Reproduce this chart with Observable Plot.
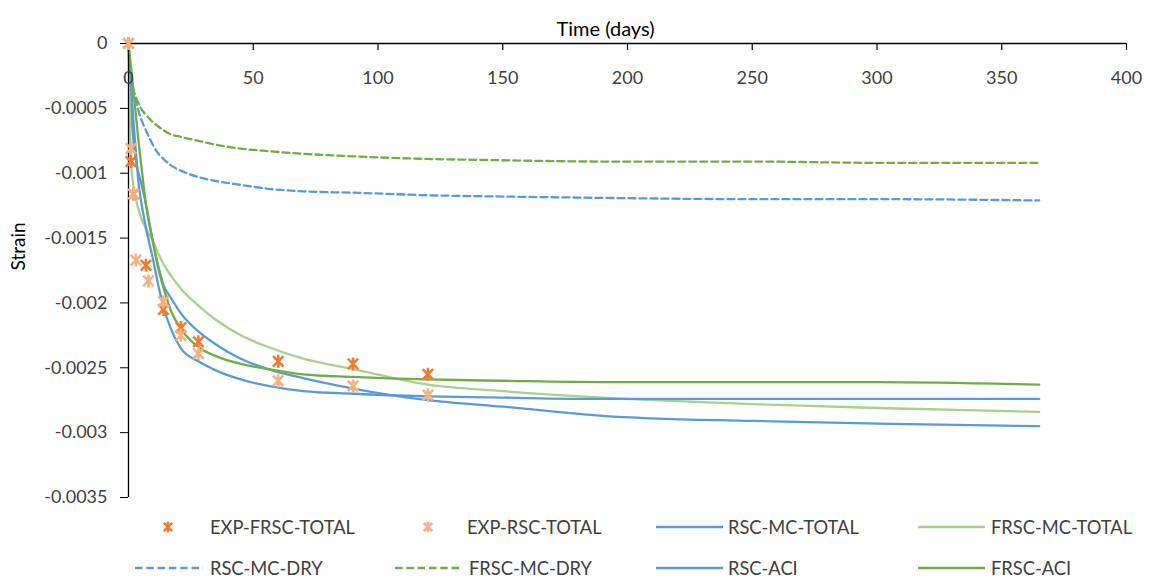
<!DOCTYPE html>
<html><head><meta charset="utf-8">
<script src="https://cdn.jsdelivr.net/npm/d3@7"></script>
<script src="https://cdn.jsdelivr.net/npm/@observablehq/plot@0.6"></script>
<style>
body{margin:0;background:#fff;}
#wrap{width:1151px;height:581px;position:relative;font-family:Lato,"Liberation Sans",Arial,sans-serif;color:#404040;background:#fff;}
#legend{position:relative;width:1151px;height:71px;}
.item{position:absolute;display:flex;align-items:center;font-size:18.3px;white-space:nowrap;transform:translateY(-50%);}
.item svg{display:block;}
</style></head><body><div id="wrap"><div id="chart"></div><div id="legend"></div></div>
<script>
// ---- data ----
const xTicks = [0, 50, 100, 150, 200, 250, 300, 350, 400];
const yTicks = [0, -0.0005, -0.001, -0.0015, -0.002, -0.0025, -0.003, -0.0035];

const expFrscDays  = [0, 1, 2, 7, 14, 21, 28, 60, 90, 120];
const expFrscTotal = [0, -0.00091, -0.00116, -0.00171, -0.00205, -0.00219, -0.0023, -0.00245, -0.00247, -0.00255];
const expRscDays   = [0, 1, 2, 3, 8, 14, 21, 28, 60, 90, 120];
const expRscTotal  = [0, -0.00081, -0.00116, -0.00167, -0.00183, -0.00199, -0.00225, -0.00239, -0.0026, -0.00264, -0.00271];

const curveDays   = [0, 1, 2, 3, 4, 5, 7, 10, 12, 14, 17, 21, 28, 35, 45, 56, 70, 90, 120, 150, 190, 250, 300, 365];
const rscMcTotal  = [0, -0.0005, -0.00075, -0.0009, -0.001, -0.00107, -0.00124, -0.00155, -0.00172, -0.00186, -0.00196, -0.00208, -0.00222, -0.00232, -0.00243, -0.00251, -0.00258, -0.00266, -0.00275, -0.0028, -0.00287, -0.00291, -0.00293, -0.00295];
const frscMcTotal = [0, -0.0009, -0.0011, -0.0012, -0.00128, -0.00134, -0.00143, -0.00153, -0.00162, -0.0017, -0.00179, -0.00189, -0.00202, -0.00213, -0.00225, -0.00234, -0.00243, -0.00251, -0.00263, -0.00268, -0.00273, -0.00278, -0.00281, -0.00284];
const rscMcDry    = [0, -0.00025, -0.00036, -0.00045, -0.00052, -0.00058, -0.00067, -0.00079, -0.00085, -0.00089, -0.00094, -0.00098, -0.00103, -0.00106, -0.00109, -0.00112, -0.00114, -0.00115, -0.00117, -0.00118, -0.00119, -0.0012, -0.0012, -0.00121];
const frscMcDry   = [0, -0.00025, -0.00036, -0.00042, -0.00046, -0.0005, -0.00055, -0.00061, -0.00064, -0.00067, -0.0007, -0.00072, -0.00075, -0.00078, -0.00081, -0.00083, -0.00085, -0.00087, -0.00089, -0.0009, -0.00091, -0.00091, -0.00092, -0.00092];
const rscAci      = [0, -0.0003, -0.0006, -0.00085, -0.00107, -0.00121, -0.00142, -0.00168, -0.00187, -0.00203, -0.0022, -0.00235, -0.00245, -0.00252, -0.00259, -0.00264, -0.00268, -0.0027, -0.00272, -0.00273, -0.00274, -0.00274, -0.00274, -0.00274];
const frscAci     = [0, -0.00018, -0.00037, -0.00056, -0.00075, -0.00092, -0.00124, -0.00155, -0.00174, -0.00188, -0.00206, -0.0022, -0.00234, -0.00241, -0.00247, -0.00251, -0.00255, -0.00257, -0.00259, -0.0026, -0.00261, -0.00261, -0.00261, -0.00263];

const seriesNames = ["EXP-FRSC-TOTAL", "EXP-RSC-TOTAL", "RSC-MC-TOTAL", "FRSC-MC-TOTAL", "RSC-MC-DRY", "FRSC-MC-DRY", "RSC-ACI", "FRSC-ACI"];

// ---- styles ----
const C = {darkOrange: "#ED7D31", lightOrange: "#F4B183", blue: "#5B9BD5", lightGreen: "#A9D18E", green: "#70AD47"};
const lineSeries = [
  {name: "RSC-MC-TOTAL", values: rscMcTotal, color: C.blue, dash: null},
  {name: "FRSC-MC-TOTAL", values: frscMcTotal, color: C.lightGreen, dash: null},
  {name: "RSC-MC-DRY", values: rscMcDry, color: C.blue, dash: "7,4"},
  {name: "FRSC-MC-DRY", values: frscMcDry, color: C.green, dash: "7,4"},
  {name: "RSC-ACI", values: rscAci, color: C.blue, dash: null},
  {name: "FRSC-ACI", values: frscAci, color: C.green, dash: null}
];
const pointSeries = [
  {name: "EXP-FRSC-TOTAL", days: expFrscDays, values: expFrscTotal, color: C.darkOrange},
  {name: "EXP-RSC-TOTAL", days: expRscDays, values: expRscTotal, color: C.lightOrange}
];

const star = {
  draw(ctx, size) {
    const r = Math.sqrt(size / Math.PI);
    const a = r * 0.8;
    ctx.moveTo(0, -r); ctx.lineTo(0, r);
    ctx.moveTo(-a, -a); ctx.lineTo(a, a);
    ctx.moveTo(-a, a); ctx.lineTo(a, -a);
  }
};

const toRows = (days, vals) => days.map((d, i) => ({day: d, strain: vals[i]}));
const fmtY = d => d === 0 ? "0" : String(d);
const FONT = "Lato, 'Liberation Sans', Arial, sans-serif";

const marks = [];
for (const s of lineSeries) {
  marks.push(Plot.line(toRows(curveDays, s.values), {
    x: "day", y: "strain", stroke: s.color, strokeWidth: 2.3,
    strokeDasharray: s.dash, curve: "monotone-x"
  }));
}
marks.push(Plot.ruleY([0], {stroke: "#000", strokeWidth: 1.3}));
marks.push(Plot.ruleX([0], {stroke: "#000", strokeWidth: 1.3}));
marks.push(Plot.tickX(xTicks, {x: d => d, stroke: "#000", strokeWidth: 1.2, insetBottom: 447}));
marks.push(Plot.text(xTicks, {x: d => d, text: d => String(d), frameAnchor: "top", dy: 28, fontSize: 18, fill: "#404040"}));
marks.push(Plot.axisY({ticks: yTicks, tickFormat: fmtY, tickSize: 8, tickPadding: 13, label: null, fontSize: 18, stroke: "#000", fill: "#404040"}));
marks.push(Plot.text(["Time (days)"], {frameAnchor: "top", dy: -22, dx: -22, fontSize: 20, fill: "#000"}));
marks.push(Plot.text(["Strain"], {frameAnchor: "left", dx: -110, rotate: -90, fontSize: 19, fill: "#000"}));
for (const p of pointSeries) {
  marks.push(Plot.dot(toRows(p.days, p.values), {
    x: "day", y: "strain", symbol: star, r: 6.5, stroke: p.color, strokeWidth: 2.6, fill: "none"
  }));
}

const chart = Plot.plot({
  width: 1151, height: 510,
  marginLeft: 128, marginRight: 25, marginTop: 43, marginBottom: 13,
  x: {domain: [0, 400], axis: null},
  y: {domain: [-0.0035, 0], axis: null},
  style: {fontFamily: FONT, background: "#fff", overflow: "visible"},
  marks
});
document.getElementById("chart").appendChild(chart);

// ---- legend ----
const legendPos = {
  "EXP-FRSC-TOTAL": {row: 0, left: 140, w: 56, gap: 14},
  "EXP-RSC-TOTAL": {row: 0, left: 400, w: 56, gap: 11},
  "RSC-MC-TOTAL": {row: 0, left: 656, w: 67, gap: 5},
  "FRSC-MC-TOTAL": {row: 0, left: 918, w: 67, gap: 6},
  "RSC-MC-DRY": {row: 1, left: 135, w: 68, gap: 7},
  "FRSC-MC-DRY": {row: 1, left: 395, w: 67, gap: 7},
  "RSC-ACI": {row: 1, left: 656, w: 67, gap: 5},
  "FRSC-ACI": {row: 1, left: 918, w: 67, gap: 6}
};
const rowY = [17, 58];
const legend = document.getElementById("legend");
const ns = "http://www.w3.org/2000/svg";
for (const name of seriesNames) {
  const pos = legendPos[name];
  const item = document.createElement("div");
  item.className = "item";
  item.style.left = pos.left + "px";
  item.style.top = rowY[pos.row] + "px";
  const svg = document.createElementNS(ns, "svg");
  svg.setAttribute("width", pos.w); svg.setAttribute("height", 16);
  const ls = lineSeries.find(s => s.name === name);
  const ps = pointSeries.find(s => s.name === name);
  if (ls) {
    const l = document.createElementNS(ns, "line");
    l.setAttribute("x1", 0); l.setAttribute("x2", pos.w); l.setAttribute("y1", 8); l.setAttribute("y2", 8);
    l.setAttribute("stroke", ls.color); l.setAttribute("stroke-width", 2.3);
    if (ls.dash) l.setAttribute("stroke-dasharray", "7.5,3.8");
    svg.appendChild(l);
  } else {
    const c = pos.w / 2, r = 5.2, a = r * 0.8;
    const path = document.createElementNS(ns, "path");
    path.setAttribute("d", `M${c},${8 - r}V${8 + r}M${c - a},${8 - a}L${c + a},${8 + a}M${c - a},${8 + a}L${c + a},${8 - a}`);
    path.setAttribute("stroke", ps.color); path.setAttribute("stroke-width", 2.6); path.setAttribute("fill", "none");
    svg.appendChild(path);
  }
  const span = document.createElement("span");
  span.textContent = name;
  span.style.marginLeft = pos.gap + "px";
  item.appendChild(svg); item.appendChild(span);
  legend.appendChild(item);
}
</script></body></html>
